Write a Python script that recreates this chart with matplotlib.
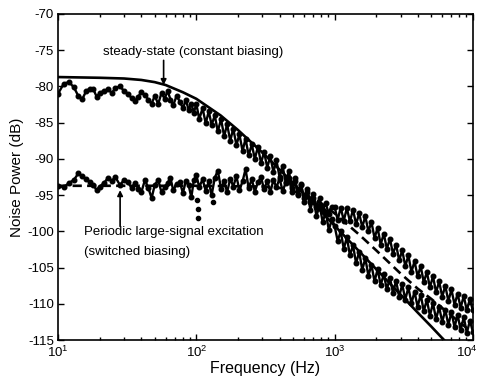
import matplotlib
matplotlib.use("Agg")
import matplotlib.pyplot as plt
import matplotlib.transforms as mtransforms
from matplotlib.ticker import FixedLocator, FixedFormatter, LogLocator, NullFormatter

plt.rcParams["font.family"] = ["Liberation Sans", "DejaVu Sans"]
plt.rcParams["axes.unicode_minus"] = False
plt.rcParams["mathtext.fontset"] = "custom"
plt.rcParams["mathtext.rm"] = "Liberation Sans"

# measured frequency points (Hz)
freq = [10, 11, 12, 13, 14, 15, 16, 17, 18, 19,
        20, 21.5, 23, 24.5, 26, 28, 30, 32, 34, 36, 38, 40, 42.5, 45, 47.5,
        50, 53, 56, 59, 62, 65, 68, 72, 76, 80, 84, 88, 92, 96,
        100, 105, 111, 117, 123, 129, 136, 143, 151, 159, 167, 176, 185, 195, 205,
        216, 227, 239, 252, 265, 279, 294, 309, 326, 343, 361, 380, 400, 421, 443,
        467, 491, 517, 544, 573, 603, 635, 668, 703, 740, 779, 820, 863, 909, 956,
        1000, 1053, 1108, 1166, 1227, 1292, 1360, 1431, 1507, 1586, 1669, 1757, 1849,
        1946, 2049, 2156, 2270, 2389, 2515, 2647, 2786, 2933, 3087, 3249, 3420, 3600,
        3789, 3988, 4198, 4419, 4651, 4895, 5153, 5424, 5709, 6009, 6325, 6657, 7007,
        7376, 7763, 8171, 8601, 9053, 9529, 10000]

# steady-state (constant biasing), measured
ss_db = [-81.0, -79.6, -79.4, -80.1, -81.3, -81.7, -80.6, -80.3, -80.4, -81.4,
         -80.9, -80.6, -80.4, -80.9, -80.2, -80.0, -80.6, -81.0, -81.6, -82.0, -81.4, -80.8, -81.2, -81.8, -82.4,
         -81.3, -82.4, -80.9, -81.7, -80.6, -81.8, -82.6, -81.3, -82.1, -83.0, -81.9, -83.2, -82.4, -83.6,
         -82.4, -84.5, -83.0, -85.1, -83.4, -85.3, -84.0, -86.2, -84.5, -86.9, -85.2, -87.5, -85.8, -88.1, -86.6,
         -88.9, -87.2, -89.5, -88.0, -90.0, -88.3, -90.6, -89.0, -91.2, -89.6, -91.8, -90.2, -92.5, -91.0, -93.2,
         -91.7, -94.0, -92.6, -94.9, -93.5, -96.0, -94.5, -97.0, -95.4, -97.9, -96.3, -98.7, -97.3, -99.8, -98.3,
         -99.2, -101.3, -100.0, -102.4, -100.8, -103.3, -101.9, -104.4, -102.8, -105.3, -103.7, -106.1, -104.6,
         -106.9, -105.2, -107.4, -105.9, -108.0, -106.4, -108.5, -106.8, -109.0, -107.3, -109.4, -107.7, -109.9,
         -108.3, -110.4, -108.7, -111.0, -109.4, -111.6, -109.9, -112.1, -110.4, -112.5, -110.8, -112.9, -111.1,
         -113.2, -111.5, -113.6, -111.8, -114.0, -112.3, -113.8]

# periodic large-signal excitation (switched biasing), measured
sw_db = [-93.7, -93.9, -93.3, -92.9, -92.0, -92.4, -92.8, -93.2, -93.6, -94.3,
         -93.8, -93.3, -92.6, -93.0, -92.5, -93.6, -92.9, -93.2, -94.0, -93.3, -94.1, -94.6, -92.9, -94.0, -95.4,
         -93.6, -92.9, -94.6, -93.9, -93.3, -92.6, -94.3, -93.5, -93.2, -94.7, -93.0, -93.6, -95.3, -92.9,
         -92.2, -93.9, -92.8, -94.4, -93.1, -95.0, -92.6, -91.6, -94.1, -93.0, -94.6, -92.7, -93.8, -92.4, -94.3,
         -93.1, -91.4, -94.0, -92.8, -94.5, -93.2, -92.5, -94.2, -93.0, -94.6, -92.9, -93.9, -92.7, -94.4, -93.3,
         -92.6, -94.5, -93.0, -95.0, -93.6, -95.4, -94.2, -96.0, -94.8, -96.6, -95.4, -97.1, -96.1, -97.6, -96.6,
         -96.6, -98.4, -96.7, -98.5, -96.8, -98.6, -97.0, -99.0, -97.5, -99.4, -97.9, -100.0, -98.7,
         -100.9, -99.5, -101.8, -100.3, -102.4, -101.0, -103.1, -101.8, -104.0, -102.6, -104.8, -103.3, -105.6,
         -104.1, -106.2, -104.8, -107.0, -105.6, -107.7, -106.2, -108.4, -106.9, -109.0, -107.5, -109.6, -108.0,
         -110.1, -108.6, -110.5, -108.9, -110.9, -109.3, -110.9]

# stray points of the switched measurement near 100 Hz
sw_out_f = [101, 102, 103, 133]
sw_out_db = [-95.6, -96.9, -98.1, -96.0]

# model curves
ss_model_f = [10, 20, 30, 40, 50, 60, 80, 100, 150, 200, 300, 500, 700, 1000, 1500,
              2000, 3000, 4000, 5000, 6000, 7000]
ss_model_db = [-78.7, -78.8, -78.9, -79.1, -79.4, -79.8, -80.8, -81.7, -84.0, -86.0, -89.1,
               -93.3, -96.1, -99.2, -102.7, -105.2, -108.7, -111.2, -113.1, -114.7, -116.0]
sw_model_f = [10, 100, 300, 400, 500, 600, 700, 800, 1000, 1500, 2000, 3000, 4000, 5000,
              7000, 10000]
sw_model_db = [-93.7, -93.7, -93.8, -94.0, -94.4, -94.9, -95.5, -96.1, -97.5, -100.4, -102.6,
               -105.8, -107.9, -109.3, -111.6, -114.0]

fig = plt.figure(figsize=(4.8, 3.78), dpi=100)
ax = fig.add_axes([0.121, 0.100, 0.864, 0.863])

ax.plot(ss_model_f, ss_model_db, color="k", lw=1.9, zorder=2)
ax.plot(sw_model_f, sw_model_db, color="k", lw=1.9, dashes=(3.5, 2), zorder=2)
ax.plot(freq, ss_db, color="k", lw=1.7, marker="o", ms=3.3, zorder=3)
ax.plot(freq, sw_db, color="k", lw=1.7, marker="o", ms=3.3, zorder=3)
ax.plot(sw_out_f, sw_out_db, ls="none", color="k", marker="o", ms=3.0, zorder=3)

ax.set_xscale("log")
ax.set_xlim(10, 10000)
ax.set_ylim(-115, -70)
ax.set_yticks(range(-115, -69, 5))
ax.xaxis.set_major_locator(FixedLocator([10, 100, 1000, 10000]))
ax.xaxis.set_major_formatter(FixedFormatter([r"$\mathregular{10^{1}}$", r"$\mathregular{10^{2}}$",
                                             r"$\mathregular{10^{3}}$", r"$\mathregular{10^{4}}$"]))
ax.xaxis.set_minor_locator(LogLocator(base=10, subs=range(2, 10)))
ax.xaxis.set_minor_formatter(NullFormatter())
ax.tick_params(which="both", direction="in", top=True, right=True, labelsize=9.5, width=1.0)
ax.tick_params(which="major", length=4, pad=3)
ax.tick_params(which="minor", length=2)
for s in ax.spines.values():
    s.set_linewidth(1.2)

# keep the last decade label inside the figure
last = ax.get_xticklabels()[-1]
last.set_transform(last.get_transform() + mtransforms.ScaledTranslation(-4 / 72, 0, fig.dpi_scale_trans))

ax.set_xlabel("Frequency (Hz)", fontsize=11.5, labelpad=1)
ax.set_ylabel("Noise Power (dB)", fontsize=11, labelpad=2)

arrow = dict(arrowstyle="-|>", color="k", lw=1.2, mutation_scale=8, shrinkA=0, shrinkB=0)
ax.annotate("", xy=(58, -79.8), xytext=(58, -76.4), arrowprops=arrow)
ax.text(21.2, -75.2, "steady-state (constant biasing)", fontsize=9.5, va="center", ha="left")
ax.annotate("", xy=(28.1, -94.3), xytext=(28.1, -99.3), arrowprops=arrow)
ax.text(15.4, -100.1, "Periodic large-signal excitation", fontsize=9.5, va="center", ha="left")
ax.text(15.4, -102.9, "(switched biasing)", fontsize=9.5, va="center", ha="left")

fig.savefig("out.png", dpi=100)
